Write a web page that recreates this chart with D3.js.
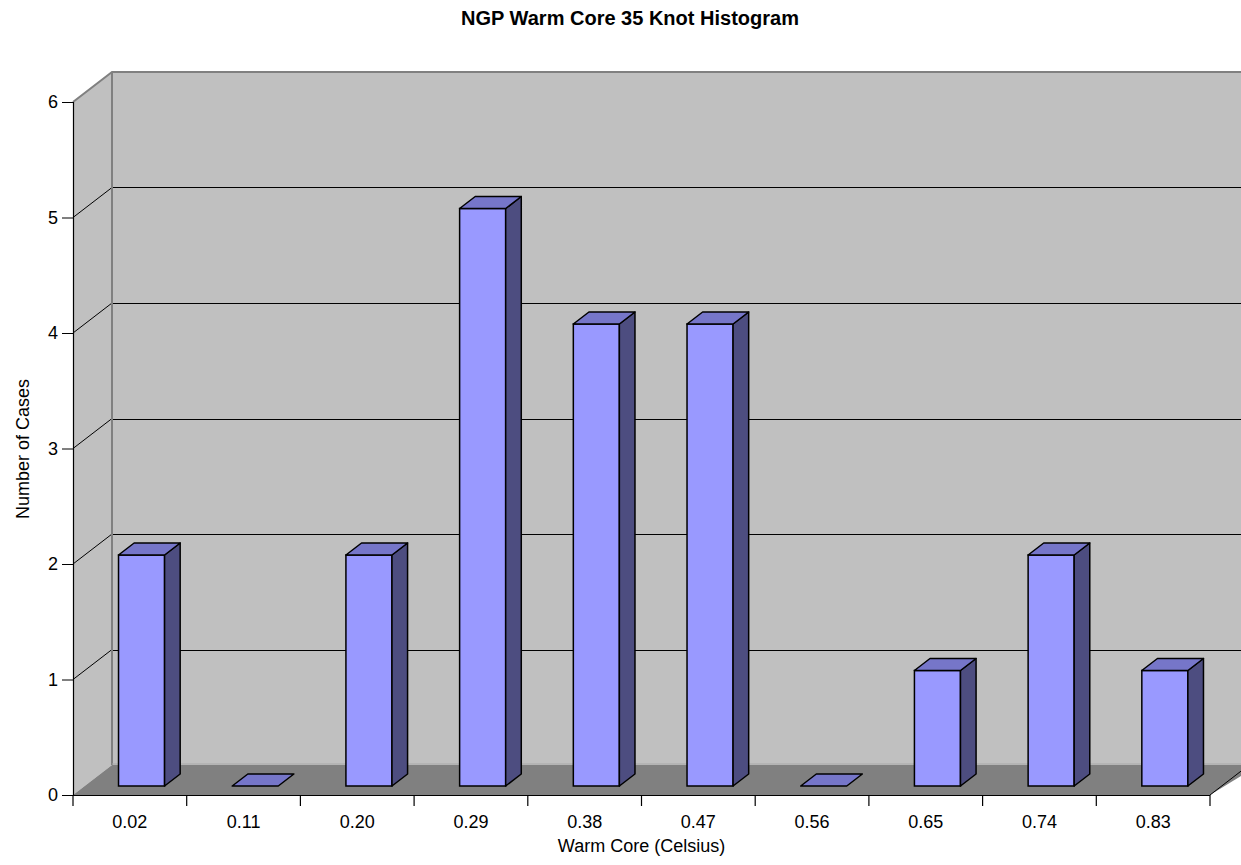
<!DOCTYPE html>
<html>
<head>
<meta charset="utf-8">
<script src="https://cdn.jsdelivr.net/npm/d3@7"></script>
<style>
  html, body { margin: 0; padding: 0; background: #fff; }
  svg { display: block; font-family: Arial, "Liberation Sans", sans-serif; }
</style>
</head>
<body>
<svg id="chart" width="1241" height="865"></svg>
<script>
// ---- Data ----
const categories = ["0.02", "0.11", "0.20", "0.29", "0.38", "0.47", "0.56", "0.65", "0.74", "0.83"];
const counts = [2, 0, 2, 5, 4, 4, 0, 1, 2, 1];
const yTicks = [0, 1, 2, 3, 4, 5, 6];
const titleText = "NGP Warm Core 35 Knot Histogram";
const xTitle = "Warm Core (Celsius)";
const yTitle = "Number of Cases";

// ---- Layout ----
const W = 1241, H = 865;
const X0 = 73, X1 = 1210, Y0 = 795, YTOP = 102;
const DX = 39, DY = -30;           // full depth offset
const FRONT = 0.3, BACK = 0.7;     // bar depth placement

const svg = d3.select("#chart");

const x = d3.scaleBand().domain(categories).range([X0, X1])
  .paddingInner(0.595).paddingOuter(0.2975);
const xCat = d3.scaleBand().domain(categories).range([X0, X1]).padding(0);
const y = d3.scaleLinear().domain([0, 6]).range([Y0, YTOP]);
const depth = d3.scaleLinear().domain([0, 1]).range([0, 1]);
const off = t => [DX * depth(t), DY * depth(t)];

const line = d3.line();

// ---- Walls ----
const [bdx, bdy] = off(1);
svg.append("rect")
  .attr("x", X0 + bdx).attr("y", y(6) + bdy)
  .attr("width", (X1 - X0) + 10).attr("height", y(0) - y(6))
  .attr("fill", "#c0c0c0");
svg.append("path")
  .attr("d", line([[X0, y(0)], [X0, y(6)], [X0 + bdx, y(6) + bdy], [X0 + bdx, y(0) + bdy]]) + "Z")
  .attr("fill", "#c0c0c0");
svg.append("path")
  .attr("d", line([[X0, y(0)], [X0 + bdx, y(0) + bdy], [X1 + bdx + 10, y(0) + bdy], [X1, y(0)]]) + "Z")
  .attr("fill", "#808080");

// gridlines (values 1..5), back wall + side wall diagonals
const gridVals = yTicks.filter(v => v > 0 && v < 6);
svg.append("g").selectAll("line").data(gridVals).join("line")
  .attr("x1", X0 + bdx).attr("x2", W + 10)
  .attr("y1", d => Math.round(y(d) + bdy) + 0.5).attr("y2", d => Math.round(y(d) + bdy) + 0.5)
  .attr("stroke", "#000").attr("stroke-width", 1);
svg.append("g").selectAll("line").data(gridVals).join("line")
  .attr("x1", X0).attr("x2", X0 + bdx)
  .attr("y1", d => y(d)).attr("y2", d => y(d) + bdy)
  .attr("stroke", "#000").attr("stroke-width", 1);

// wall edges (gray)
svg.append("path")
  .attr("d", line([[X0, y(6)], [X0 + bdx, y(6) + bdy], [W + 10, y(6) + bdy]]))
  .attr("fill", "none").attr("stroke", "#808080").attr("stroke-width", 2);
svg.append("line")
  .attr("x1", X0 + bdx).attr("x2", X0 + bdx)
  .attr("y1", y(6) + bdy).attr("y2", y(0) + bdy)
  .attr("stroke", "#808080").attr("stroke-width", 2);
svg.append("line")
  .attr("x1", X0 + bdx).attr("x2", W + 10)
  .attr("y1", y(0) + bdy - 1).attr("y2", y(0) + bdy - 1)
  .attr("stroke", "#a8a8a8").attr("stroke-width", 1);
svg.append("line")
  .attr("x1", X1).attr("y1", y(0))
  .attr("x2", X1 + bdx).attr("y2", y(0) + bdy)
  .attr("stroke", "#000").attr("stroke-width", 1);

// ---- Bars ----
const [fdx, fdy] = off(FRONT);
const [kdx, kdy] = off(BACK);
const ddx = kdx - fdx, ddy = kdy - fdy;
const bars = svg.append("g").selectAll("g").data(categories.map((c, i) => ({ c, v: counts[i] }))).join("g");
bars.each(function(d) {
  const g = d3.select(this);
  const xl = x(d.c) + fdx, xr = xl + x.bandwidth();
  const yb = y(0) + fdy, yt = y(d.v) + fdy;
  if (d.v > 0) {
    g.append("rect").attr("x", xl).attr("y", yt).attr("width", xr - xl).attr("height", yb - yt)
      .attr("fill", "#9999ff").attr("stroke", "#000").attr("stroke-width", 1.5);
    g.append("path")
      .attr("d", line([[xr, yt], [xr + ddx, yt + ddy], [xr + ddx, yb + ddy], [xr, yb]]) + "Z")
      .attr("fill", "#4d4d80").attr("stroke", "#000").attr("stroke-width", 1.5).attr("stroke-linejoin", "round");
  }
  g.append("path")
    .attr("d", line([[xl, yt], [xr, yt], [xr + ddx, yt + ddy], [xl + ddx, yt + ddy]]) + "Z")
    .attr("fill", "#7676c9").attr("stroke", "#000").attr("stroke-width", 1.5).attr("stroke-linejoin", "round");
});

// ---- Axes ----
const yAxis = d3.axisLeft(y).tickValues(yTicks).tickSize(11).tickPadding(4).tickFormat(d3.format("d"));
const gy = svg.append("g").attr("transform", `translate(${X0},0)`).call(yAxis);
gy.select(".domain").attr("stroke", "#000").attr("stroke-width", 1.2);
gy.selectAll(".tick line").attr("stroke", "#000");
gy.selectAll(".tick text").attr("font-size", 18).attr("fill", "#000")
  .attr("font-family", "Arial, 'Liberation Sans', sans-serif");

const xAxis = d3.axisBottom(xCat).tickSize(0).tickPadding(0);
const gx = svg.append("g").attr("transform", `translate(0,${Y0})`).call(xAxis);
gx.select(".domain").attr("d", `M${X0},0.5H${X1}`).attr("stroke", "#000").attr("stroke-width", 1.2);
gx.selectAll(".tick text").attr("font-size", 18).attr("fill", "#000").attr("dy", null).attr("y", 33)
  .attr("font-family", "Arial, 'Liberation Sans', sans-serif");
const bounds = categories.map(c => xCat(c)).concat([X1]);
gx.append("g").selectAll("line").data(bounds).join("line")
  .attr("x1", d => d).attr("x2", d => d).attr("y1", 0).attr("y2", 11)
  .attr("stroke", "#000").attr("stroke-width", 1.2);

// ---- Titles ----
svg.append("text").attr("x", 630).attr("y", 25).attr("text-anchor", "middle")
  .attr("font-size", 20).attr("font-weight", "bold").text(titleText);
svg.append("text").attr("x", (X0 + X1) / 2).attr("y", 852).attr("text-anchor", "middle")
  .attr("font-size", 18).text(xTitle);
svg.append("text").attr("transform", `translate(29,449) rotate(-90)`).attr("text-anchor", "middle")
  .attr("font-size", 18).text(yTitle);
</script>
</body>
</html>
